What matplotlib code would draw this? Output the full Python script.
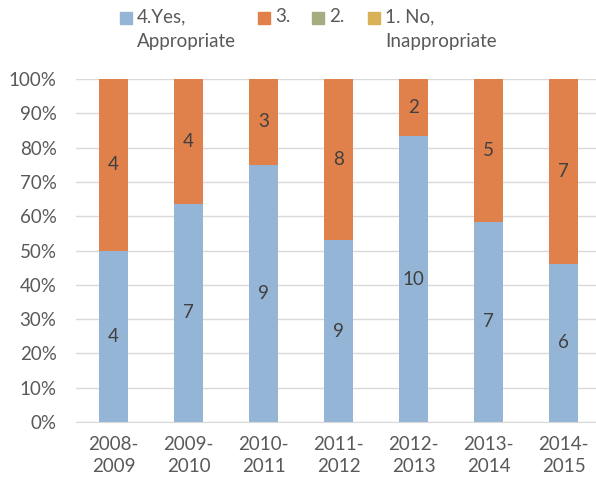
import matplotlib
matplotlib.use("Agg")
import matplotlib.pyplot as plt
from matplotlib.patches import Rectangle
import numpy as np

plt.rcParams['font.family'] = ['Lato', 'DejaVu Sans']

categories = ["2008-\n2009", "2009-\n2010", "2010-\n2011", "2011-\n2012",
              "2012-\n2013", "2013-\n2014", "2014-\n2015"]
series_names = ["4.Yes,\nAppropriate", "3.", "2.", "1. No,\nInappropriate"]
yes_vals = [4, 7, 9, 9, 10, 7, 6]
three_vals = [4, 4, 3, 8, 2, 5, 7]
two_vals = [0, 0, 0, 0, 0, 0, 0]
no_vals = [0, 0, 0, 0, 0, 0, 0]
colors = ["#95B5D6", "#E0804A", "#A5AD80", "#D9B157"]

data = np.array([yes_vals, three_vals, two_vals, no_vals], dtype=float)
totals = data.sum(axis=0)
pct = data / totals * 100

W, H = 596, 484
fig = plt.figure(figsize=(W / 100, H / 100), dpi=100)
ax = fig.add_axes([76 / W, 1 - 422 / H, (596 - 76) / W, (422 - 79) / H])

FS = 13.5
TXT = "#595959"
x = np.arange(len(categories))
bottom = np.zeros(len(categories))
for i in range(len(series_names)):
    ax.bar(x, pct[i], bottom=bottom, width=0.39, color=colors[i], zorder=3)
    for j in range(len(categories)):
        if data[i, j] > 0:
            ax.text(x[j], bottom[j] + pct[i, j] / 2, f"{int(data[i, j])}",
                    ha="center", va="center", fontsize=FS, color="#404040", zorder=4)
    bottom += pct[i]

ax.set_ylim(0, 100)
ax.set_xlim(-0.5, 6.5 - 5 / 75)
ax.set_yticks(np.arange(0, 101, 10))
ax.set_yticklabels([f"{v}%" for v in range(0, 101, 10)])
ax.set_xticks(x)
ax.set_xticklabels(categories, linespacing=1.35)
ax.tick_params(axis='both', length=0, labelsize=FS, colors=TXT)
ax.tick_params(axis='x', pad=10)
ax.tick_params(axis='y', pad=14)
ax.grid(axis='y', color="#D9D9D9", linewidth=1, zorder=0)
for s in ["top", "right", "left"]:
    ax.spines[s].set_visible(False)
ax.spines["bottom"].set_color("#D9D9D9")
ax.spines["bottom"].set_zorder(3)

# legend
leg_x = [120, 258, 312, 368]
for name, c, lx in zip(series_names, colors, leg_x):
    fig.patches.append(Rectangle((lx / W, 1 - 24 / H), 12 / W, 12 / H,
                                 transform=fig.transFigure, color=c))
    fig.text((lx + 17) / W, 1 - 8 / H, name, ha="left", va="top",
             fontsize=FS, color=TXT, linespacing=1.6)

fig.savefig("out.png", dpi=100)
